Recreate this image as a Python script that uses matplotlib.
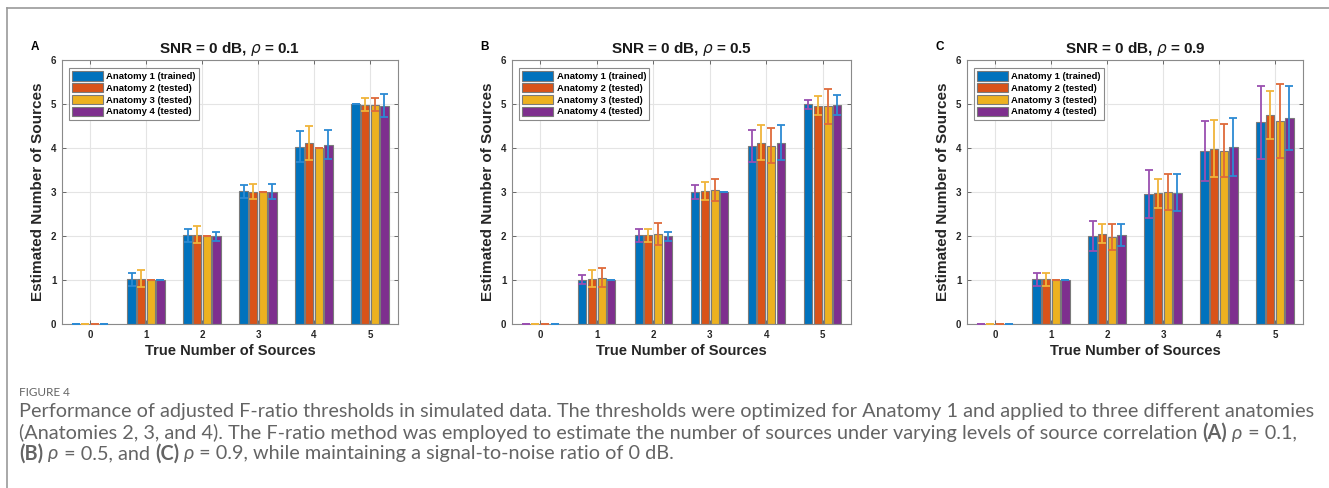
import numpy as np
import matplotlib
matplotlib.use("Agg")
import matplotlib.pyplot as plt
from matplotlib.lines import Line2D

plt.rcParams['font.family'] = ['Liberation Sans', 'DejaVu Sans']

# ---- data ----
sources = [0, 1, 2, 3, 4, 5]
anatomies = ['Anatomy 1 (trained)', 'Anatomy 2 (tested)',
             'Anatomy 3 (tested)', 'Anatomy 4 (tested)']
rho_labels = ['0.1', '0.5', '0.9']
panel_letters = ['A', 'B', 'C']

# rho = 0.1
means_a = [[0, 1.02, 2.02, 3.02, 4.03, 5.00],
           [0, 1.03, 2.03, 3.01, 4.11, 4.98],
           [0, 1.00, 2.00, 3.00, 4.00, 4.98],
           [0, 1.00, 1.99, 3.01, 4.07, 4.96]]
err_a = [[0, 0.15, 0.15, 0.15, 0.35, 0.00],
         [0, 0.19, 0.19, 0.18, 0.38, 0.15],
         [0, 0.00, 0.00, 0.00, 0.00, 0.15],
         [0, 0.00, 0.11, 0.18, 0.33, 0.26]]
# rho = 0.5
means_b = [[0, 1.01, 2.02, 3.00, 4.05, 4.99],
           [0, 1.03, 2.02, 3.02, 4.12, 4.96],
           [0, 1.05, 2.04, 3.05, 4.05, 4.95],
           [0, 1.00, 1.99, 3.00, 4.12, 4.98]]
err_b = [[0, 0.11, 0.15, 0.15, 0.37, 0.11],
         [0, 0.19, 0.15, 0.21, 0.40, 0.22],
         [0, 0.22, 0.25, 0.25, 0.40, 0.40],
         [0, 0.00, 0.11, 0.00, 0.40, 0.23]]
# rho = 0.9
means_c = [[0, 1.02, 2.00, 2.96, 3.93, 4.58],
           [0, 1.02, 2.05, 2.97, 3.98, 4.75],
           [0, 1.00, 1.98, 2.99, 3.94, 4.62],
           [0, 1.00, 2.03, 2.98, 4.02, 4.68]]
err_c = [[0, 0.15, 0.35, 0.54, 0.68, 0.83],
         [0, 0.15, 0.22, 0.33, 0.65, 0.55],
         [0, 0.00, 0.29, 0.41, 0.61, 0.84],
         [0, 0.00, 0.25, 0.42, 0.66, 0.73]]

bar_colors = ['#0072BD', '#D95319', '#EDB120', '#7E2F8E']
err_colors_a = ['#2C8AD3', '#F0B43A', '#DE6A3A', '#2C8AD3']
err_colors_bc = ['#9A4FB0', '#F0B43A', '#DE6A3A', '#2C8AD3']

panels = [(means_a, err_a, err_colors_a),
          (means_b, err_b, err_colors_bc),
          (means_c, err_c, err_colors_bc)]

W, H = 1329, 488
fig = plt.figure(figsize=(W / 100, H / 100), dpi=100)

axes_px = [(62, 398), (512, 851), (967, 1303)]
top_px, bot_px = 60, 324

x = np.array(sources)
slot = 0.172
width = 0.145

for k, (means, errs, ecols) in enumerate(panels):
    l, r = axes_px[k]
    ax = fig.add_axes([l / W, 1 - bot_px / H, (r - l) / W, (bot_px - top_px) / H])
    ax.set_axisbelow(True)
    for i in range(4):
        off = (i - 1.5) * slot
        ax.bar(x + off, means[i], width, color=bar_colors[i],
               edgecolor='#7a7a7a', linewidth=0.8, label=anatomies[i], zorder=2)
        ax.errorbar(x + off, means[i], yerr=errs[i], fmt='none',
                    ecolor=ecols[i], elinewidth=1.3, capsize=3, capthick=1.3, zorder=3)
    ax.set_xlim(-0.5, 5.5)
    ax.set_ylim(0, 6)
    ax.set_xticks(sources)
    ax.set_yticks(range(7))
    ax.grid(True, color='#e4e4e4', linewidth=0.8)
    ax.tick_params(direction='in', top=True, right=True, length=3,
                   width=0.6, color='#555555', labelsize=7, pad=4,
                   labelcolor='#262626')
    for lab in ax.get_xticklabels() + ax.get_yticklabels():
        lab.set_fontweight('bold')
    for sp in ax.spines.values():
        sp.set_color('#8a8a8a')
        sp.set_linewidth(0.8)
    ax.set_xlabel('True Number of Sources', fontsize=10.5, fontweight='bold',
                  color='#262626', labelpad=3)
    ax.set_ylabel('Estimated Number of Sources', fontsize=11, fontweight='bold',
                  color='#262626', labelpad=4)
    ax.set_title(r'SNR = 0 dB, $\rho$ = ' + rho_labels[k], fontsize=11,
                 fontweight='bold', color='#1a1a1a', pad=5)
    ax.text(-0.08, 1.025, panel_letters[k], transform=ax.transAxes,
            fontsize=8.5, fontweight='bold', ha='center', va='bottom')
    leg = ax.legend(loc='upper left', bbox_to_anchor=(0.02, 0.97),
                    prop={'weight': 'bold', 'size': 6.8}, handlelength=3.3,
                    handleheight=1.15, handletextpad=0.35, labelspacing=0.2,
                    borderpad=0.35, fancybox=False, framealpha=1,
                    edgecolor='#8a8a8a', borderaxespad=0)
    leg.get_frame().set_linewidth(0.8)

# page frame lines
fig.add_artist(Line2D([7 / W, 1], [1 - 8 / H, 1 - 8 / H], color='#9a9a9a', lw=1.2))
fig.add_artist(Line2D([7 / W, 7 / W], [0, 1 - 8 / H], color='#9a9a9a', lw=1.2))

# caption
cap_color = '#646464'
cap_font = ['Lato', 'DejaVu Sans']
renderer = fig.canvas.get_renderer()

fig.text(19 / W, 1 - 392 / H, 'FIGURE 4', fontsize=8.5, color=cap_color,
         family=cap_font, va='center')

line1 = [('Performance of adjusted F-ratio thresholds in simulated data. The thresholds '
          'were optimized for Anatomy 1 and applied to three different anatomies', 'normal', 'normal')]
line2 = [('(Anatomies 2, 3, and 4). The F-ratio method was employed to estimate the number '
          'of sources under varying levels of source correlation ', 'normal', 'normal'),
         ('(A)', 'bold', 'normal'), (' ', 'normal', 'normal'), ('ρ', 'normal', 'italic'),
         (' = 0.1,', 'normal', 'normal')]
line3 = [('(B)', 'bold', 'normal'), (' ', 'normal', 'normal'), ('ρ', 'normal', 'italic'),
         (' = 0.5, and ', 'normal', 'normal'), ('(C)', 'bold', 'normal'),
         (' ', 'normal', 'normal'), ('ρ', 'normal', 'italic'),
         (' = 0.9, while maintaining a signal-to-noise ratio of 0 dB.', 'normal', 'normal')]

# pick the caption size so the first line spans the same width as the reference
probe = fig.text(0, 0, line1[0][0], fontsize=10, family=cap_font)
wpx = probe.get_window_extent(renderer).width
probe.remove()
cap_size = 10 * (1299 / wpx)


def draw_line(y_px, segs):
    xpos = 19 / W
    for s, wt, st in segs:
        t = fig.text(xpos, 1 - y_px / H, s, fontsize=cap_size, color=cap_color,
                     family=cap_font, weight=wt, style=st, va='center')
        xpos += t.get_window_extent(renderer).width / W


draw_line(412, line1)
draw_line(433, line2)
draw_line(454, line3)

fig.savefig('out.png', dpi=100)
